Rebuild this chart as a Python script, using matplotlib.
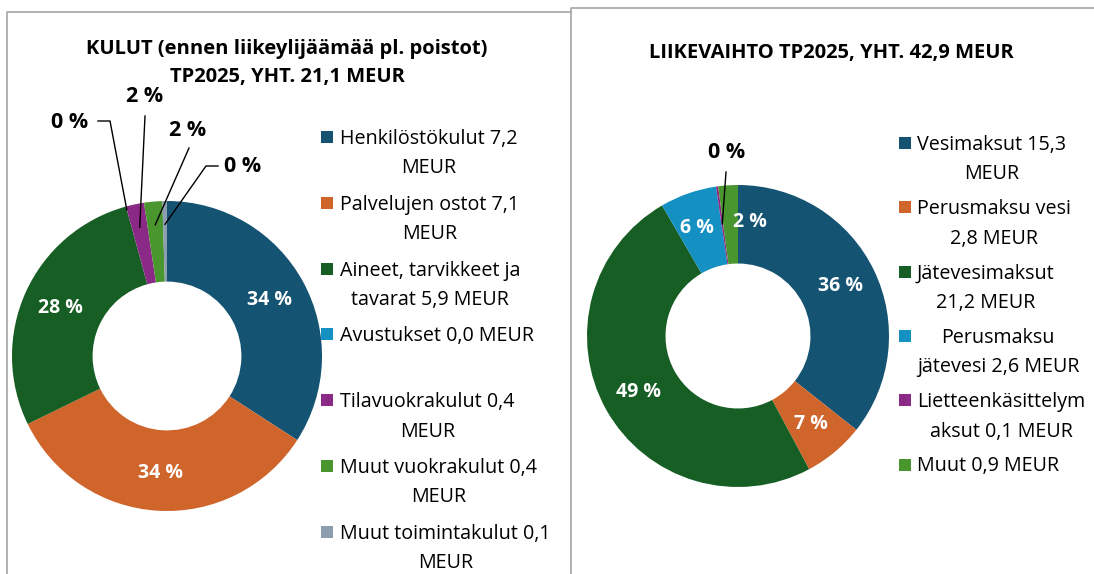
import matplotlib.pyplot as plt
import numpy as np

plt.rcParams['font.family'] = ['Open Sans', 'DejaVu Sans']

# left chart: costs
cost_labels = ["Henkilöstökulut 7,2\nMEUR", "Palvelujen ostot 7,1\nMEUR",
               "Aineet, tarvikkeet ja\ntavarat 5,9 MEUR", "Avustukset 0,0 MEUR",
               "Tilavuokrakulut 0,4\nMEUR", "Muut vuokrakulut 0,4\nMEUR",
               "Muut toimintakulut 0,1\nMEUR"]
cost_values = [7.2, 7.1, 5.9, 0.0, 0.4, 0.4, 0.1]
cost_pct = ["34 %", "34 %", "28 %", "0 %", "2 %", "2 %", "0 %"]
cost_colors = ['#145372', '#D0652C', '#165E23', '#1490C2', '#8B2987', '#4A962E', '#8B9DAE']

# right chart: turnover
rev_labels = ["Vesimaksut 15,3\nMEUR", "Perusmaksu vesi\n2,8 MEUR", "Jätevesimaksut\n21,2 MEUR",
              "Perusmaksu\njätevesi 2,6 MEUR", "Lietteenkäsittelym\naksut 0,1 MEUR", "Muut 0,9 MEUR"]
rev_values = [15.3, 2.8, 21.2, 2.6, 0.1, 0.9]
rev_pct = ["36 %", "7 %", "49 %", "6 %", "0 %", "2 %"]
rev_colors = ['#145372', '#D0652C', '#165E23', '#1490C2', '#8B2987', '#4A962E']

W, H = 1094, 574
fig = plt.figure(figsize=(W / 100, H / 100), dpi=100)
ax = fig.add_axes([0, 0, 1, 1])


def Y(y):
    return H - y


def donut(values, colors, pct, cx, cy, r, inside, outside):
    ax.pie(values, colors=colors, radius=r, center=(cx, Y(cy)), startangle=90,
           counterclock=False, wedgeprops=dict(width=r * 0.52, linewidth=0))
    total = sum(values)
    start = np.cumsum([0] + values[:-1]) / total
    mid = (start + np.array(values) / total / 2) * 2 * np.pi
    for i, dx in inside.items():
        x = cx + 0.755 * r * np.sin(mid[i]) + dx
        y = Y(cy) + 0.755 * r * np.cos(mid[i])
        ax.text(x, y, pct[i], color='white', fontsize=14, fontweight='bold',
                ha='center', va='center')
    for i, (tx, ty, pts, rr) in outside.items():
        ax.text(tx, Y(ty), pct[i], color='black', fontsize=15.5, fontweight='bold',
                ha='center', va='center')
        ex = cx + rr * r * np.sin(mid[i])
        ey = Y(cy) + rr * r * np.cos(mid[i])
        xs = [p[0] for p in pts] + [ex]
        ys = [Y(p[1]) for p in pts] + [ey]
        ax.plot(xs, ys, color='black', linewidth=1)


def legend(labels, colors, mx, tx, y0, step):
    for k, (lab, col) in enumerate(zip(labels, colors)):
        y = y0 + k * step
        ax.add_patch(plt.Rectangle((mx - 6, Y(y) - 6), 12, 12, color=col, linewidth=0))
        ax.text(tx, Y(y) + 8, lab, fontsize=14.2, ha='left', va='top',
                multialignment='center', linespacing=1.63)


# left panel
ax.plot([7, 7, 571], [0, Y(12), Y(12)], color='#A6A6A6', linewidth=1.2)
ax.text(287, Y(63), "KULUT (ennen liikeylijäämää pl. poistot)\nTP2025, YHT. 21,1 MEUR",
        fontsize=14.5, fontweight='bold', ha='center', va='center', linespacing=1.5)
donut(cost_values, cost_colors, cost_pct, 167, 356, 155, {0: 0, 1: 0, 2: 0},
      {3: (70, 123, [(98, 121), (110, 121)], 0.98),
       4: (145, 97, [(145, 116)], 0.85),
       5: (188, 130, [(189, 148)], 0.85),
       6: (243, 167, [(218, 166), (206, 166)], 0.85)})
legend(cost_labels, cost_colors, 327, 340, 137, 65.8)

# right panel
ax.add_patch(plt.Rectangle((571, 0), W - 571, Y(8), facecolor='white', edgecolor='none'))
ax.plot([571, 571, W], [0, Y(8), Y(8)], color='#A6A6A6', linewidth=1.2)
ax.text(831, Y(53), "LIIKEVAIHTO TP2025, YHT. 42,9 MEUR",
        fontsize=14.5, fontweight='bold', ha='center', va='center')
donut(rev_values, rev_colors, rev_pct, 738, 336, 151, {0: 0, 1: 0, 2: 0, 3: -3, 5: 19},
      {4: (727, 153, [(726, 172)], 0.75)})
legend(rev_labels, rev_colors, 905, 917, 143, 64.3)

ax.set_xlim(0, W)
ax.set_ylim(0, H)
ax.set_aspect('auto')
ax.axis('off')

fig.savefig('out.png', dpi=100)
